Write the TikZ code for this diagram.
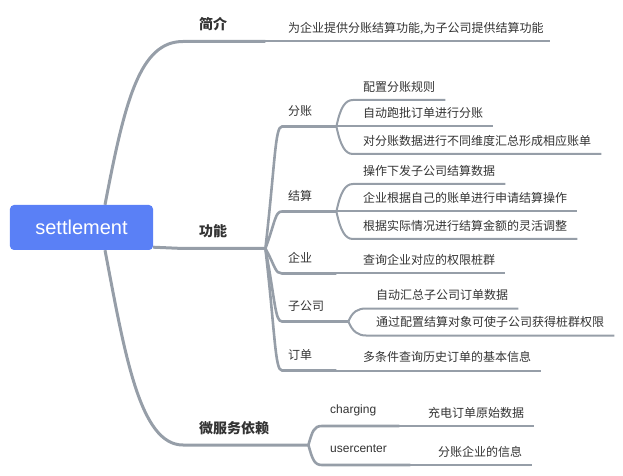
\documentclass[tikz,border=0pt]{standalone}
\usepackage{fontspec}
\setmainfont{Liberation Sans}
\newfontfamily\cjk{Noto Sans CJK SC}
\usepackage{tikz}
\usetikzlibrary{backgrounds}
\definecolor{rootblue}{RGB}{90,128,246}
\definecolor{linegray}{RGB}{150,158,168}
\definecolor{textgray}{RGB}{51,51,51}

\begin{document}
\begin{tikzpicture}[x=1bp,y=-1bp,
    rootbox/.style={fill=rootblue, text=white, rounded corners=4bp, minimum width=143bp, minimum height=45bp, inner sep=0pt, font=\fontsize{20bp}{24bp}\selectfont},
    mainbr/.style={anchor=south west, inner xsep=16bp, inner ysep=9.5bp, text height=11bp, text depth=2bp, align=left, text=textgray, font=\cjk\bfseries\fontsize{14bp}{16bp}\selectfont},
    subbr/.style={anchor=south west, inner xsep=6bp, inner ysep=9bp, text height=9bp, text depth=2bp, align=left, text width=42bp, text=textgray, font=\cjk\fontsize{12bp}{14bp}\selectfont},
    svc/.style={anchor=south west, inner xsep=8bp, inner ysep=9.5bp, text height=9bp, text depth=2.5bp, align=left, text=textgray, font=\fontsize{12bp}{14bp}\selectfont},
    leaf/.style={anchor=south west, inner xsep=10bp, inner ysep=6.5bp, text height=9bp, text depth=2bp, text=textgray, font=\cjk\fontsize{12bp}{14bp}\selectfont},
    mainln/.style={draw=linegray, line width=3bp},
    subln/.style={draw=linegray, line width=2.6bp},
    leafln/.style={draw=linegray, line width=2bp},
]
    \useasboundingbox (0,0) rectangle (623,476);

    % Root
    \node[rootbox] (root) at (81.5,227.5) {settlement};

    % Main branches
    \node[mainbr, text width=50bp] (intro) at (183,41.5) {简介};
    \node[mainbr, text width=50bp] (func) at (183,248.5) {功能};
    \node[mainbr, text width=93bp] (deps) at (183,445) {微服务依赖};

    % Functions
    \node[subbr] (split) at (282,126.5) {分账};
    \node[subbr] (settle) at (282,211.5) {结算};
    \node[subbr] (corp) at (282,273.5) {企业};
    \node[subbr, text width=54bp] (subco) at (282,321.5) {子公司};
    \node[subbr] (order) at (282,370.5) {订单};

    % Services
    \node[svc, text width=61bp] (charging) at (322,426) {charging};
    \node[svc, text width=72bp] (ucenter) at (322,465) {usercenter};

    % Leaves
    \node[leaf, inner xsep=6bp] (introtxt) at (282,41.5) {为企业提供分账结算功能,为子公司提供结算功能};

    \node[leaf] (split1) at (353,100) {配置分账规则};
    \node[leaf] (split2) at (353,126.5) {自动跑批订单进行分账};
    \node[leaf] (split3) at (353,154) {对分账数据进行不同维度汇总形成相应账单};

    \node[leaf] (settle1) at (353,184) {操作下发子公司结算数据};
    \node[leaf] (settle2) at (353,211.5) {企业根据自己的账单进行申请结算操作};
    \node[leaf] (settle3) at (353,239) {根据实际情况进行结算金额的灵活调整};

    \node[leaf] (corp1) at (353,273.5) {查询企业对应的权限桩群};

    \node[leaf] (subco1) at (366,308.5) {自动汇总子公司订单数据};
    \node[leaf] (subco2) at (366,335.5) {通过配置结算对象可使子公司获得桩群权限};

    \node[leaf] (order1) at (353,370.5) {多条件查询历史订单的基本信息};

    \node[leaf] (charging1) at (418,426) {充电订单原始数据};
    \node[leaf] (ucenter1) at (428,465) {分账企业的信息};

    \begin{scope}[on background layer]
    % Root to branches
    \draw[mainln] ([xshift=23.5bp]root.north) .. controls +(20,-105) and +(-43,0) .. (intro.south west) -- (intro.south east);
    \draw[mainln] ([yshift=3bp]root.south east) .. controls +(15,0) and +(-15,0) .. (func.south west) -- (func.south east);
    \draw[mainln] ([xshift=23.5bp]root.south) .. controls +(20,105) and +(-43,0) .. (deps.south west) -- (deps.south east);

    % Functions
    \draw[subln] (func.south east) .. controls +(10,-88) and +(-7,0) .. (split.south west) -- (split.south east);
    \draw[subln] (func.south east) .. controls +(10,-27) and +(-7,0) .. (settle.south west) -- (settle.south east);
    \draw[subln] (func.south east) .. controls +(10,18) and +(-7,0) .. (corp.south west) -- (corp.south east);
    \draw[subln] (func.south east) .. controls +(10,53) and +(-7,0) .. (subco.south west) -- (subco.south east);
    \draw[subln] (func.south east) .. controls +(10,88) and +(-7,0) .. (order.south west) -- (order.south east);

    % Services
    \draw[subln] (deps.south east) .. controls +(4,-14) and +(-8,0) .. (charging.south west) -- (charging.south east);
    \draw[subln] (deps.south east) .. controls +(4,14) and +(-8,0) .. (ucenter.south west) -- (ucenter.south east);

    % Leaves
    \draw[leafln] (intro.south east) -- (introtxt.south east);

    \draw[leafln] (split.south east) .. controls +(4,-19) and +(-8,0) .. (split1.south west) -- (split1.south east);
    \draw[leafln] (split.south east) -- (split2.south east);
    \draw[leafln] (split.south east) .. controls +(4,19) and +(-8,0) .. (split3.south west) -- (split3.south east);

    \draw[leafln] (settle.south east) .. controls +(4,-19) and +(-8,0) .. (settle1.south west) -- (settle1.south east);
    \draw[leafln] (settle.south east) -- (settle2.south east);
    \draw[leafln] (settle.south east) .. controls +(4,19) and +(-8,0) .. (settle3.south west) -- (settle3.south east);

    \draw[leafln] (corp.south east) -- (corp1.south east);

    \draw[leafln] (subco.south east) .. controls +(4,-10) and +(-8,0) .. (subco1.south west) -- (subco1.south east);
    \draw[leafln] (subco.south east) .. controls +(4,10) and +(-8,0) .. (subco2.south west) -- (subco2.south east);

    \draw[leafln] (order.south east) -- (order1.south east);

    \draw[leafln] (charging.south east) -- (charging1.south east);
    \draw[leafln] (ucenter.south east) -- (ucenter1.south east);
    \end{scope}
\end{tikzpicture}
\end{document}
